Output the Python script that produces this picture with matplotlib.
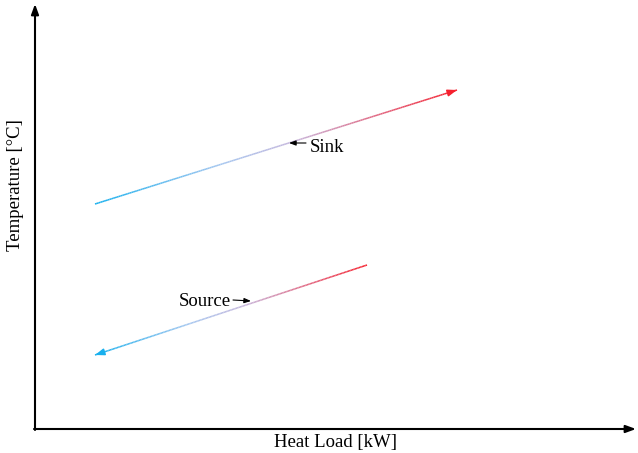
import numpy as np
import matplotlib.pyplot as plt
from matplotlib.collections import LineCollection
from matplotlib.colors import LinearSegmentedColormap

# stream end points (heat load, temperature) in drawing units
sink_q = [60, 422]
sink_t = [225, 339]
source_q = [332, 60]
source_t = [164, 74]

labels = ["Sink", "Source"]
label_pos = [(275, 282), (196, 127)]
label_arrow = [((271, 286), (254, 286)), ((198, 129), (216, 128))]

plt.rcParams['font.family'] = ['Liberation Serif', 'DejaVu Serif']

cmap = LinearSegmentedColormap.from_list(
    "hx", [(0.0, "#18b0ee"), (0.35, "#a6c6ef"), (0.55, "#c6b6dc"),
           (0.8, "#e3607a"), (1.0, "#f5202e")])

fig = plt.figure(figsize=(6.38, 4.53), dpi=100)
ax = fig.add_axes([0, 0, 1, 1])
ax.set_xlim(-35, 603)
ax.set_ylim(-24, 429)
ax.axis('off')


def gradient_line(q, t, cold_first=True):
    n = 200
    xs = np.linspace(q[0], q[1], n)
    ys = np.linspace(t[0], t[1], n)
    pts = np.array([xs, ys]).T.reshape(-1, 1, 2)
    segs = np.concatenate([pts[:-1], pts[1:]], axis=1)
    vals = np.linspace(0, 1, n - 1)
    if not cold_first:
        vals = vals[::-1]
    lc = LineCollection(segs, cmap=cmap, array=vals, linewidth=1.1,
                        capstyle='butt')
    ax.add_collection(lc)
    end_col = cmap(1.0) if cold_first else cmap(0.0)
    dx, dy = q[1] - q[0], t[1] - t[0]
    L = np.hypot(dx, dy)
    ax.annotate("", xy=(q[1], t[1]),
                xytext=(q[1] - dx / L * 8, t[1] - dy / L * 8),
                arrowprops=dict(arrowstyle="-|>,head_length=0.55,head_width=0.2",
                                color=end_col, lw=1.1, shrinkA=0, shrinkB=0))


gradient_line(sink_q, sink_t, cold_first=True)
gradient_line(source_q, source_t, cold_first=False)

# axes
ax.annotate("", xy=(601, 0), xytext=(-1, 0),
            arrowprops=dict(arrowstyle="-|>,head_length=0.6,head_width=0.22",
                            color='black', lw=1.5, shrinkA=0, shrinkB=0))
ax.annotate("", xy=(0, 425), xytext=(0, -1),
            arrowprops=dict(arrowstyle="-|>,head_length=0.6,head_width=0.22",
                            color='black', lw=1.5, shrinkA=0, shrinkB=0))

fs = 13.5
ax.text(301, -5, "Heat Load [kW]", ha='center', va='top', fontsize=fs)
ax.text(-19, 244, "Temperature [°C]", ha='center', va='center',
        rotation=90, fontsize=fs)

# labels
ax.text(label_pos[0][0], label_pos[0][1], labels[0], ha='left',
        va='center', fontsize=fs)
ax.text(label_pos[1][0], label_pos[1][1], labels[1], ha='right',
        va='center', fontsize=fs)
for tail, head in label_arrow:
    ax.annotate("", xy=head, xytext=tail,
                arrowprops=dict(arrowstyle="-|>,head_length=0.4,head_width=0.15",
                                color='black', lw=0.8, shrinkA=0, shrinkB=0))

fig.savefig("out.png", dpi=100)
